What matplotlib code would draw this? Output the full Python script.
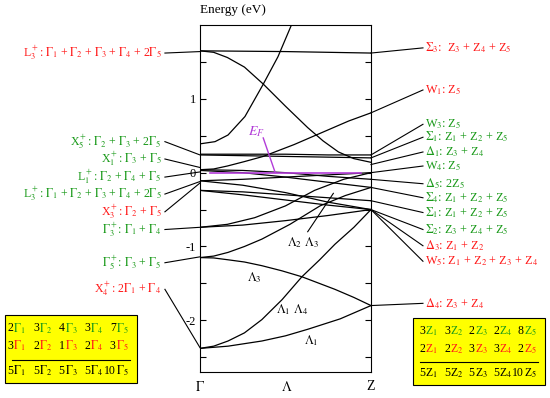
import numpy as np
import matplotlib
matplotlib.use("Agg")
import matplotlib.pyplot as plt

plt.rcParams['font.family'] = ['Liberation Serif', 'DejaVu Serif']
plt.rcParams['mathtext.fontset'] = 'stix'

RED = '#ff1a1a'
GREEN = '#1a9a1a'

# bands: k (0 = Gamma, 1 = Z) and energy (eV)
band_k = [
    [0, 0.5, 1],
    [0, 0.08, 0.16, 0.26, 0.37, 0.5, 0.63, 0.72, 0.81, 0.9, 1],
    [0, 0.088, 0.164, 0.263, 0.368, 0.456, 0.544],
    [0, 0.08, 0.16, 0.26, 0.37, 0.46, 0.55, 0.65, 0.75, 0.87, 1],
    [0, 0.25, 0.5, 0.75, 1],
    [0, 0.25, 0.5, 0.75, 1],
    [0, 0.25, 0.5, 0.75, 1],
    [0, 0.25, 0.5, 0.75, 1],
    [0, 0.25, 0.5, 0.75, 1],
    [0, 0.25, 0.5, 0.75, 1],
    [0, 0.25, 0.5, 0.75, 1],
    [0, 0.25, 0.5, 0.75, 1],
    [0, 0.25, 0.5, 0.75, 1],
    [0, 0.16, 0.32, 0.5, 0.67, 0.84, 1],
    [0, 0.08, 0.164, 0.26, 0.362, 0.526, 0.702, 0.85, 1],
    [0, 0.08, 0.164, 0.26, 0.362, 0.48, 0.596, 0.789, 0.9, 1],
    [0, 0.08, 0.164, 0.26, 0.362, 0.48, 0.596, 0.7, 0.789, 0.9, 1],
    [0, 0.164, 0.362, 0.5, 0.632, 0.82, 1],
]
band_E = [
    [1.65, 1.64, 1.62],
    [1.65, 1.63, 1.56, 1.43, 1.20, 0.90, 0.61, 0.43, 0.28, 0.19, 0.14],
    [0.39, 0.42, 0.51, 0.76, 1.19, 1.57, 2.05],
    [0.04, 0.05, 0.09, 0.15, 0.22, 0.30, 0.38, 0.48, 0.58, 0.70, 0.81],
    [0.25, 0.25, 0.25, 0.24, 0.24],
    [0.24, 0.23, 0.22, 0.21, 0.20],
    [0.04, 0.03, 0.00, -0.05, -0.09],
    [0.03, 0.00, -0.06, -0.13, -0.20],
    [-0.11, -0.17, -0.27, -0.40, -0.50],
    [-0.11, -0.09, -0.06, -0.03, 0.00],
    [-0.24, -0.26, -0.30, -0.34, -0.38],
    [-0.24, -0.30, -0.37, -0.44, -0.50],
    [-0.74, -0.71, -0.65, -0.58, -0.50],
    [-0.74, -0.70, -0.61, -0.45, -0.24, -0.09, 0.00],
    [-1.15, -1.13, -1.08, -1.00, -0.90, -0.70, -0.45, -0.31, -0.20],
    [-1.15, -1.155, -1.18, -1.21, -1.26, -1.33, -1.41, -1.58, -1.69, -1.80],
    [-2.38, -2.35, -2.28, -2.17, -1.99, -1.72, -1.41, -1.18, -0.97, -0.74, -0.50],
    [-2.38, -2.35, -2.28, -2.21, -2.12, -1.98, -1.80],
]

# irreps at Gamma (left) and Z (right): label, colour, text energy, target energy
left_labels = [
    r'L$_3^+$: $\Gamma_1$ + $\Gamma_2$ + $\Gamma_3$ + $\Gamma_4$ + 2$\Gamma_5$',
    r'X$_5^+$: $\Gamma_2$ + $\Gamma_3$ + 2$\Gamma_5$',
    r'X$_1^+$: $\Gamma_3$ + $\Gamma_5$',
    r'L$_1^+$: $\Gamma_2$ + $\Gamma_4$ + $\Gamma_5$',
    r'L$_3^+$: $\Gamma_1$ + $\Gamma_2$ + $\Gamma_3$ + $\Gamma_4$ + 2$\Gamma_5$',
    r'X$_3^+$: $\Gamma_2$ + $\Gamma_5$',
    r'$\Gamma_3^+$: $\Gamma_1$ + $\Gamma_4$',
    r'$\Gamma_5^+$: $\Gamma_3$ + $\Gamma_5$',
    r'X$_4^+$: 2$\Gamma_1$ + $\Gamma_4$',
]
left_colors = [RED, GREEN, GREEN, GREEN, GREEN, RED, GREEN, GREEN, RED]
left_text_E = [1.62, 0.42, 0.185, -0.06, -0.29, -0.53, -0.77, -1.22, -1.58]
left_target_E = [1.64, 0.24, 0.07, 0.01, -0.12, -0.14, -0.74, -1.14, -2.37]

right_labels = [
    r'$\Sigma_3$:  Z$_3$ + Z$_4$ + Z$_5$',
    r'W$_1$: Z$_5$',
    r'W$_3$: Z$_5$',
    r'$\Sigma_1$: Z$_1$ + Z$_2$ + Z$_5$',
    r'$\Delta_1$: Z$_3$ + Z$_4$',
    r'W$_4$: Z$_5$',
    r'$\Delta_5$: 2Z$_5$',
    r'$\Sigma_4$: Z$_1$ + Z$_2$ + Z$_5$',
    r'$\Sigma_1$: Z$_1$ + Z$_2$ + Z$_5$',
    r'$\Sigma_2$: Z$_3$ + Z$_4$ + Z$_5$',
    r'$\Delta_3$: Z$_1$ + Z$_2$',
    r'W$_5$: Z$_1$ + Z$_2$ + Z$_3$ + Z$_4$',
    r'$\Delta_4$: Z$_3$ + Z$_4$',
]
right_colors = [RED, RED, GREEN, GREEN, GREEN, GREEN, GREEN, GREEN, GREEN, GREEN, RED, RED, RED]
right_text_E = [1.69, 1.12, 0.655, 0.48, 0.28, 0.09, -0.15, -0.34, -0.54, -0.77, -0.99, -1.20, -1.77]
right_target_E = [1.62, 0.81, 0.24, 0.20, 0.11, 0.00, -0.09, -0.20, -0.38, -0.50, -0.50, -0.50, -1.80]

# multiplicity tables
gamma_occ = [2, 3, 4, 3, 7]
gamma_unocc = [3, 2, 1, 2, 3]
gamma_total = [5, 5, 5, 5, 10]
z_occ = [3, 3, 2, 2, 8]
z_unocc = [2, 2, 3, 3, 2]
z_total = [5, 5, 5, 5, 10]

fig = plt.figure(figsize=(5.5, 3.98), dpi=100)
ax = fig.add_axes([0.3636, 0.0653, 0.3109, 0.8719])

for k, E in zip(band_k, band_E):
    ax.plot(k, E, color='black', lw=0.9)

# Fermi level
ax.plot([0.06, 0.94], [0, 0], color='#b23cd8', lw=1.2)
ax.plot([0.37, 0.44], [0.47, 0.0], color='#b23cd8', lw=1.0)
ax.text(0.33, 0.56, r'$E_F$', color='#b23cd8', fontsize=10, ha='center', va='center')

ax.set_xlim(0, 1)
ax.set_ylim(-2.7, 2.0)
ax.set_xticks([0, 0.51, 1])
ax.set_xticklabels([r'$\Gamma$', r'$\Lambda$', 'Z'], fontsize=10)
ax.tick_params(axis='x', length=0, pad=6)
ax.set_yticks(np.arange(-2.5, 2.0, 0.5))
ax.set_yticklabels(['' if abs(v - round(v)) > 0.01 else '%d' % round(v) for v in np.arange(-2.5, 2.0, 0.5)], fontsize=9)
ax.tick_params(axis='y', direction='in', length=4, right=True, pad=3)
ax.text(0.0, 1.025, 'Energy (eV)', transform=ax.transAxes, fontsize=9.5, ha='left', va='bottom')

# symmetry labels for bands inside the panel
ax.text(0.32, -1.42, r'$\Lambda_3$', fontsize=9, ha='center', va='center')
ax.text(0.54, -1.85, r'$\Lambda_1$ $\Lambda_4$', fontsize=9, ha='center', va='center')
ax.text(0.65, -2.28, r'$\Lambda_1$', fontsize=9, ha='center', va='center')
ax.text(0.60, -0.95, r'$\Lambda_2$ $\Lambda_3$', fontsize=9, ha='center', va='center')
ax.plot([0.63, 0.78], [-0.80, -0.28], color='black', lw=0.8)

# irreps at Gamma
for lab, c, te, tg in zip(left_labels, left_colors, left_text_E, left_target_E):
    ax.text(-0.225, te, lab, color=c, fontsize=8.6, ha='right', va='center')
    ax.plot([-0.205, 0], [te, tg], color='black', lw=0.8, clip_on=False)

# irreps at Z
for lab, c, te, tg in zip(right_labels, right_colors, right_text_E, right_target_E):
    ax.text(1.318, te, lab, color=c, fontsize=8.8, ha='left', va='center')
    ax.plot([1.0, 1.304], [tg, te], color='black', lw=0.8, clip_on=False)


def table(x0, y0, w, h, x_first, step, sym, occ, unocc, total):
    box = plt.Rectangle((x0, y0), w, h, transform=fig.transFigure, facecolor='#ffff00',
                        edgecolor='black', lw=0.8)
    fig.patches.append(box)
    rows = [y0 + h * 0.80, y0 + h * 0.54, y0 + h * 0.18]
    for i in range(5):
        cx = x0 + x_first + i * step
        for n, row, c in zip([occ[i], unocc[i]], rows[:2], [GREEN, RED]):
            fig.text(cx, row, str(n), fontsize=8.5, ha='right', va='center')
            fig.text(cx, row, r'%s$_{%d}$' % (sym, i + 1), color=c, fontsize=8.5, ha='left', va='center')
        fig.text(cx, rows[2], str(total[i]), fontsize=8.5, ha='right', va='center')
        fig.text(cx, rows[2], r'%s$_{%d}$' % (sym, i + 1), fontsize=8.5, ha='left', va='center')
    fig.add_artist(plt.Line2D([x0 + 0.012, x0 + w - 0.012], [y0 + h * 0.34] * 2,
                              transform=fig.transFigure, color='black', lw=0.8))


table(0.009, 0.038, 0.240, 0.171, 0.0155, 0.0465, r'$\Gamma$', gamma_occ, gamma_unocc, gamma_total)
table(0.751, 0.033, 0.240, 0.168, 0.0226, 0.0446, 'Z', z_occ, z_unocc, z_total)

fig.savefig('out.png', dpi=100)
